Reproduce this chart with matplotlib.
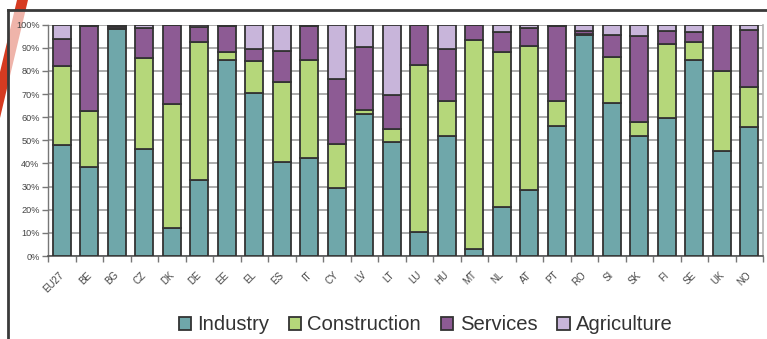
import matplotlib
matplotlib.use("Agg")
import matplotlib.pyplot as plt
from matplotlib.patches import Polygon, Rectangle, Patch
from matplotlib.lines import Line2D
from matplotlib.transforms import ScaledTranslation
import numpy as np

plt.rcParams['font.family'] = ['Liberation Sans', 'DejaVu Sans']

countries = ["EU27", "BE", "BG", "CZ", "DK", "DE", "EE", "EL", "ES", "IT",
             "CY", "LV", "LT", "LU", "HU", "MT", "NL", "AT", "PT", "RO",
             "SI", "SK", "FI", "SE", "UK", "NO"]

industry = [48.2, 38.4, 98.3, 46.2, 12.1, 32.7, 84.6, 70.5, 40.7, 42.4,
            29.5, 61.2, 49.5, 10.2, 51.7, 2.9, 21.2, 28.5, 56.3, 95.6,
            66.2, 51.9, 59.5, 84.6, 45.5, 55.7]
construction = [34.1, 24.1, 0.2, 39.6, 53.8, 60.0, 3.6, 13.8, 34.4, 42.5,
                19.0, 2.1, 5.2, 72.3, 15.4, 90.4, 67.0, 62.2, 10.8, 0.3,
                19.9, 6.0, 32.0, 8.1, 34.5, 17.4]
services = [11.7, 36.8, 1.0, 12.6, 34.1, 6.5, 11.1, 5.4, 13.5, 14.4,
            27.9, 26.9, 14.8, 17.5, 22.4, 6.7, 8.7, 8.0, 32.2, 1.5,
            9.5, 37.1, 5.8, 4.2, 20.0, 24.7]
agriculture = [6.0, 0.7, 0.5, 1.6, 0.0, 0.8, 0.7, 10.3, 11.4, 0.7,
               23.6, 9.8, 30.5, 0.0, 10.5, 0.0, 3.1, 1.3, 0.7, 2.6,
               4.4, 5.0, 2.7, 3.1, 0.0, 2.2]

series_names = ["Industry", "Construction", "Services", "Agriculture"]
series_colors = ["#6fa7aa", "#b5d77a", "#8d5b94", "#c8b5da"]
edge = "#333333"

W, H = 767, 339
fig = plt.figure(figsize=(W / 100, H / 100), dpi=100)
fig.patch.set_facecolor("white")

# decorative red slash in the corner
slash = Polygon([(17 / W, 1), (28 / W, 1), (0, 1 - 118 / H), (0, 1 - 72 / H)],
                closed=True, transform=fig.transFigure, facecolor="#d63b21",
                edgecolor="none", zorder=0)
fig.patches.append(slash)
# white panel over the slash, semi-opaque
panel = Rectangle((8 / W, 0), 1 - 8 / W, 1 - 10 / H, transform=fig.transFigure,
                  facecolor="white", alpha=0.62, edgecolor="none", zorder=1)
fig.patches.append(panel)
fig.lines.append(Line2D([8 / W, 1], [1 - 10 / H, 1 - 10 / H], transform=fig.transFigure,
                        color="#3a3a3a", lw=2.0, zorder=2))
fig.lines.append(Line2D([8 / W, 8 / W], [0, 1 - 10 / H], transform=fig.transFigure,
                        color="#3a3a3a", lw=2.0, zorder=2))

ax = fig.add_axes([48 / W, 1 - 256 / H, (763 - 48) / W, (256 - 24.7) / H])
ax.set_facecolor("white")
ax.set_zorder(3)

x = np.arange(len(countries))
bottom = np.zeros(len(countries))
for vals, color, name in zip([industry, construction, services, agriculture],
                             series_colors, series_names):
    v = np.array(vals) / 100.0
    ax.bar(x, v, width=0.65, bottom=bottom, color=color, edgecolor=edge,
           linewidth=1.3, label=name, zorder=3)
    bottom += v

ax.set_xlim(-0.5, len(countries) - 0.5)
ax.set_ylim(0, 1.0)

yt = np.arange(0, 1.01, 0.1)
ax.set_yticks(yt)
ax.set_yticklabels([f"{int(round(t * 100))}%" for t in yt], fontsize=6.6, color="#444444")
ax.yaxis.grid(True, color="#9d9d9d", linewidth=1.2, zorder=0)
ax.set_axisbelow(True)
ax.tick_params(axis="y", length=4, width=1.0, color="#777777", pad=2, direction="out")

# boundary ticks on x, labels at category centres
ax.set_xticks(np.arange(-0.5, len(countries), 1.0))
ax.set_xticklabels([])
ax.tick_params(axis="x", which="major", length=4, width=1.0, color="#777777")
ax.set_xticks(x, minor=True)
ax.set_xticklabels(countries, minor=True, rotation=45, ha="right",
                   rotation_mode="anchor", fontsize=7, color="#444444")
ax.tick_params(axis="x", which="minor", length=0, pad=10)
offset = ScaledTranslation(-3 / 100, 0, fig.dpi_scale_trans)
for lbl in ax.get_xticklabels(minor=True):
    lbl.set_transform(lbl.get_transform() + offset)

ax.spines["top"].set_visible(False)
ax.spines["left"].set_color("#777777")
ax.spines["bottom"].set_color("#555555")
ax.spines["right"].set_color("#b0b0b0")
ax.spines["left"].set_linewidth(1.0)
ax.spines["bottom"].set_linewidth(1.2)
ax.spines["right"].set_linewidth(1.2)

handles = [Patch(facecolor=c, edgecolor=edge, linewidth=1.3) for c in series_colors]
leg = fig.legend(handles, series_names, loc="center", ncol=4,
                 bbox_to_anchor=(425.5 / W, 1 - 325 / H), frameon=False,
                 fontsize=14.6, handlelength=0.6, handleheight=0.6,
                 handletextpad=0.3, columnspacing=1.0, borderaxespad=0)
for t in leg.get_texts():
    t.set_color("#333333")

fig.savefig("out.png", dpi=100, facecolor="white")
